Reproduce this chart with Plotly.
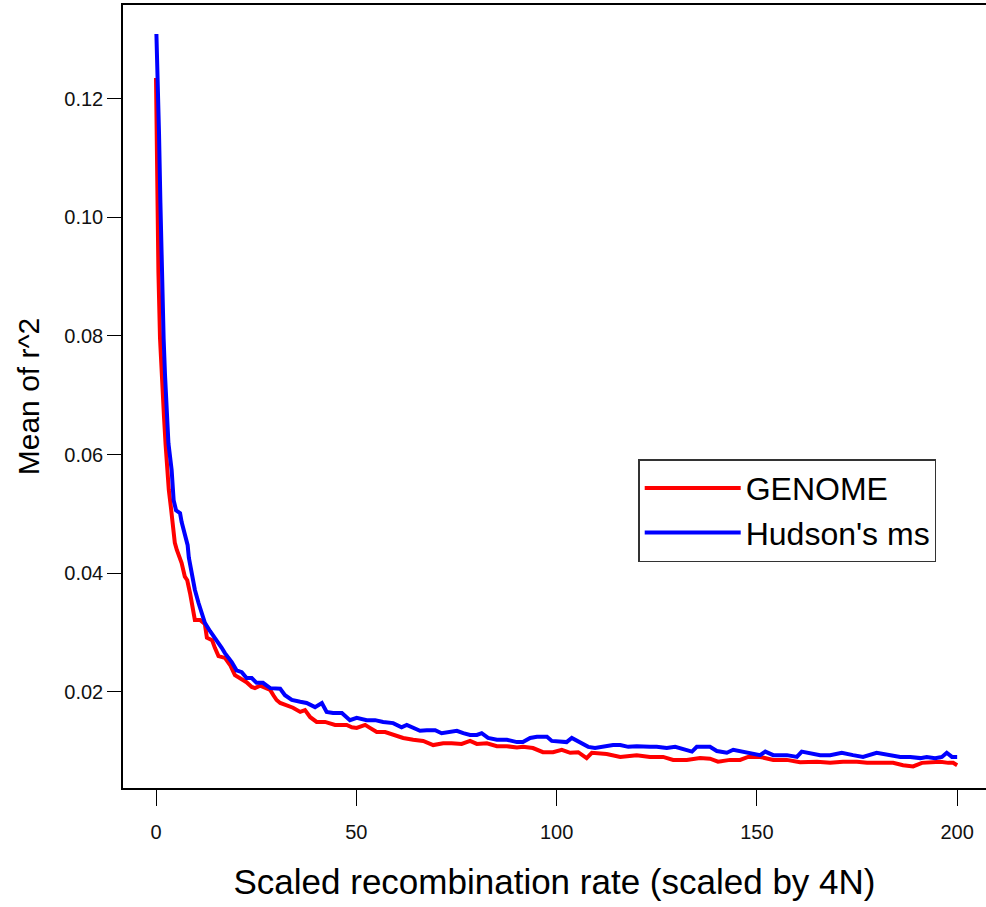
import plotly.graph_objects as go

# Hudson's ms (blue)
ms_x = [0.1, 0.4, 0.75, 1.1, 1.5, 1.9, 2.25, 2.6, 3.1, 3.9, 4.4, 5.0, 6.0, 6.4, 7.2, 7.9, 8.2, 8.9, 9.7,
        10.6, 11.4, 12.2, 13.5, 14.7, 16.4, 17.2, 18.9, 20.1, 21.4, 22.6, 23.9, 25.1, 26.7, 28.5, 31.0,
        32.2, 33.9, 36.0, 37.6, 39.7, 41.4, 42.6, 44.2, 46.4, 48.4, 50.1, 52.6, 54.7, 56.7, 59.2, 61.3,
        62.6, 64.2, 65.9, 67.6, 69.7, 71.3, 73.4, 75.1, 76.7, 78.4, 80.1, 81.3, 82.9, 85.1, 87.6, 90.1,
        91.6, 93.4, 95.1, 97.6, 98.8, 100.9, 102.5, 103.8, 105.9, 107.9, 109.6, 111.6, 114.1, 115.9,
        117.9, 120.0, 121.6, 123.3, 125.0, 127.5, 129.6, 130.8, 132.5, 133.8, 135.0, 138.3, 140.0,
        142.5, 144.1, 146.6, 147.8, 150.8, 152.1, 154.1, 157.5, 160.0, 161.2, 163.3, 165.8, 168.3,
        171.2, 174.0, 176.5, 179.9, 183.3, 185.8, 188.3, 190.8, 192.4, 194.5, 196.2, 197.4, 198.7, 200.0]
ms_y = [0.1309, 0.1252, 0.1142, 0.1024, 0.0894, 0.0796, 0.0734, 0.0687, 0.0619, 0.0574, 0.0523, 0.0506,
        0.0501, 0.0486, 0.0468, 0.0447, 0.0426, 0.0401, 0.0372, 0.0350, 0.0333, 0.0316, 0.0302, 0.0291,
        0.0274, 0.0265, 0.0250, 0.0236, 0.0233, 0.0223, 0.0223, 0.0215, 0.0215, 0.0206, 0.0205, 0.0194,
        0.0186, 0.0183, 0.0181, 0.0174, 0.0181, 0.0166, 0.0164, 0.0164, 0.0152, 0.0156, 0.0152, 0.0152,
        0.0149, 0.0147, 0.0140, 0.0144, 0.0139, 0.0134, 0.0135, 0.0135, 0.0130, 0.0132, 0.0134, 0.0130,
        0.0127, 0.0127, 0.0130, 0.0122, 0.0119, 0.0119, 0.0115, 0.0115, 0.0122, 0.0124, 0.0124, 0.0117,
        0.0115, 0.0115, 0.0122, 0.0115, 0.0107, 0.0105, 0.0107, 0.0110, 0.0110, 0.0107, 0.0108, 0.0107,
        0.0107, 0.0107, 0.0105, 0.0107, 0.0105, 0.0102, 0.0099, 0.0107, 0.0107, 0.0100, 0.0097, 0.0102,
        0.0099, 0.0097, 0.0093, 0.0099, 0.0093, 0.0093, 0.0090, 0.0099, 0.0097, 0.0093, 0.0093, 0.0097,
        0.0093, 0.0090, 0.0097, 0.0093, 0.0090, 0.0090, 0.0088, 0.0090, 0.0088, 0.0090, 0.0097, 0.0090,
        0.0090]

# GENOME (red)
gen_x = [0.0, 0.1, 0.4, 0.6, 1.0, 1.5, 2.0, 2.4, 2.8, 3.2, 3.7, 4.2, 4.7, 5.2, 6.0, 6.4, 7.2, 7.8, 8.5,
         9.3, 9.7, 11.0, 12.2, 12.7, 14.0, 14.7, 15.6, 17.2, 18.5, 19.7, 21.0, 22.6, 23.9, 24.7, 26.0,
         27.6, 28.5, 29.3, 30.1, 31.0, 32.2, 34.2, 36.0, 37.2, 38.5, 40.1, 42.2, 44.7, 47.6, 48.9, 50.1,
         52.2, 53.4, 55.1, 57.2, 59.2, 61.7, 64.2, 66.7, 69.2, 71.7, 73.8, 76.3, 78.4, 80.1, 82.6, 85.1,
         87.6, 90.1, 91.6, 94.1, 96.6, 99.1, 101.3, 103.4, 105.4, 107.5, 108.8, 112.5, 115.9, 120.0,
         123.3, 126.6, 129.1, 132.5, 135.8, 138.3, 140.3, 143.3, 145.8, 147.8, 150.8, 154.1, 157.5,
         160.8, 165.0, 168.3, 171.5, 175.0, 177.5, 180.8, 184.0, 186.5, 189.0, 191.2, 193.7, 195.8,
         197.8, 199.0, 200.0]
gen_y = [0.1235, 0.1167, 0.1033, 0.0908, 0.0796, 0.0717, 0.0663, 0.0616, 0.0571, 0.0540, 0.0512, 0.0478,
         0.0451, 0.0439, 0.0422, 0.0417, 0.0394, 0.0388, 0.0366, 0.0329, 0.0321, 0.0321, 0.0314, 0.0291,
         0.0287, 0.0274, 0.0260, 0.0257, 0.0245, 0.0228, 0.0223, 0.0216, 0.0208, 0.0206, 0.0210, 0.0206,
         0.0203, 0.0194, 0.0186, 0.0181, 0.0178, 0.0173, 0.0166, 0.0169, 0.0157, 0.0149, 0.0149, 0.0144,
         0.0144, 0.0140, 0.0139, 0.0144, 0.0139, 0.0132, 0.0132, 0.0127, 0.0122, 0.0119, 0.0117, 0.0110,
         0.0113, 0.0113, 0.0112, 0.0117, 0.0112, 0.0113, 0.0108, 0.0108, 0.0106, 0.0107, 0.0105, 0.0098,
         0.0098, 0.0102, 0.0097, 0.0098, 0.0088, 0.0097, 0.0095, 0.0090, 0.0093, 0.0090, 0.0090, 0.0085,
         0.0085, 0.0088, 0.0087, 0.0082, 0.0085, 0.0085, 0.0090, 0.0090, 0.0085, 0.0085, 0.0081, 0.0082,
         0.0080, 0.0082, 0.0082, 0.0080, 0.0080, 0.0080, 0.0076, 0.0074, 0.0080, 0.0082, 0.0082, 0.0080,
         0.0080, 0.0076]

x_ticks = [0, 50, 100, 150, 200]
y_ticks = [0.02, 0.04, 0.06, 0.08, 0.10, 0.12]
y_tick_text = ["0.02", "0.04", "0.06", "0.08", "0.10", "0.12"]

FONT = "Liberation Sans, Arial, sans-serif"

fig = go.Figure()
fig.add_trace(go.Scatter(x=gen_x, y=gen_y, mode="lines", name="GENOME",
                         line=dict(color="#FF0000", width=4)))
fig.add_trace(go.Scatter(x=ms_x, y=ms_y, mode="lines", name="Hudson's ms",
                         line=dict(color="#0000FF", width=4)))

fig.update_layout(
    width=986, height=907,
    margin=dict(l=123, r=0, t=5, b=119),
    paper_bgcolor="white", plot_bgcolor="white",
    font=dict(family=FONT, color="black"),
    showlegend=True,
    legend=dict(x=0.597, y=0.42, xanchor="left", yanchor="top",
                bgcolor="white", bordercolor="#333333", borderwidth=1.5,
                font=dict(size=32, family=FONT, color="black"),
                itemwidth=96, tracegroupgap=0),
)
fig.update_xaxes(
    range=[-8.24, 207.2], showgrid=False, zeroline=False,
    showline=True, linecolor="black", linewidth=1.5, mirror=True,
    ticks="outside", ticklen=16, tickwidth=1.2, tickcolor="black",
    tickvals=x_ticks, ticktext=[str(v) for v in x_ticks],
    tickfont=dict(size=20, family=FONT, color="#111111"), ticklabelstandoff=9,
    title=dict(text="Scaled recombination rate (scaled by 4N)", font=dict(size=35, family=FONT), standoff=28),
)
fig.update_yaxes(
    range=[0.00376, 0.1358], showgrid=False, zeroline=False,
    showline=True, linecolor="black", linewidth=1.5, mirror=False,
    ticks="outside", ticklen=14, tickwidth=1.2, tickcolor="black",
    tickvals=y_ticks, ticktext=y_tick_text,
    tickfont=dict(size=20, family=FONT, color="#111111"),
    title=dict(text="Mean of r^2", font=dict(size=30, family=FONT), standoff=16),
)

fig.write_html("out.html")
